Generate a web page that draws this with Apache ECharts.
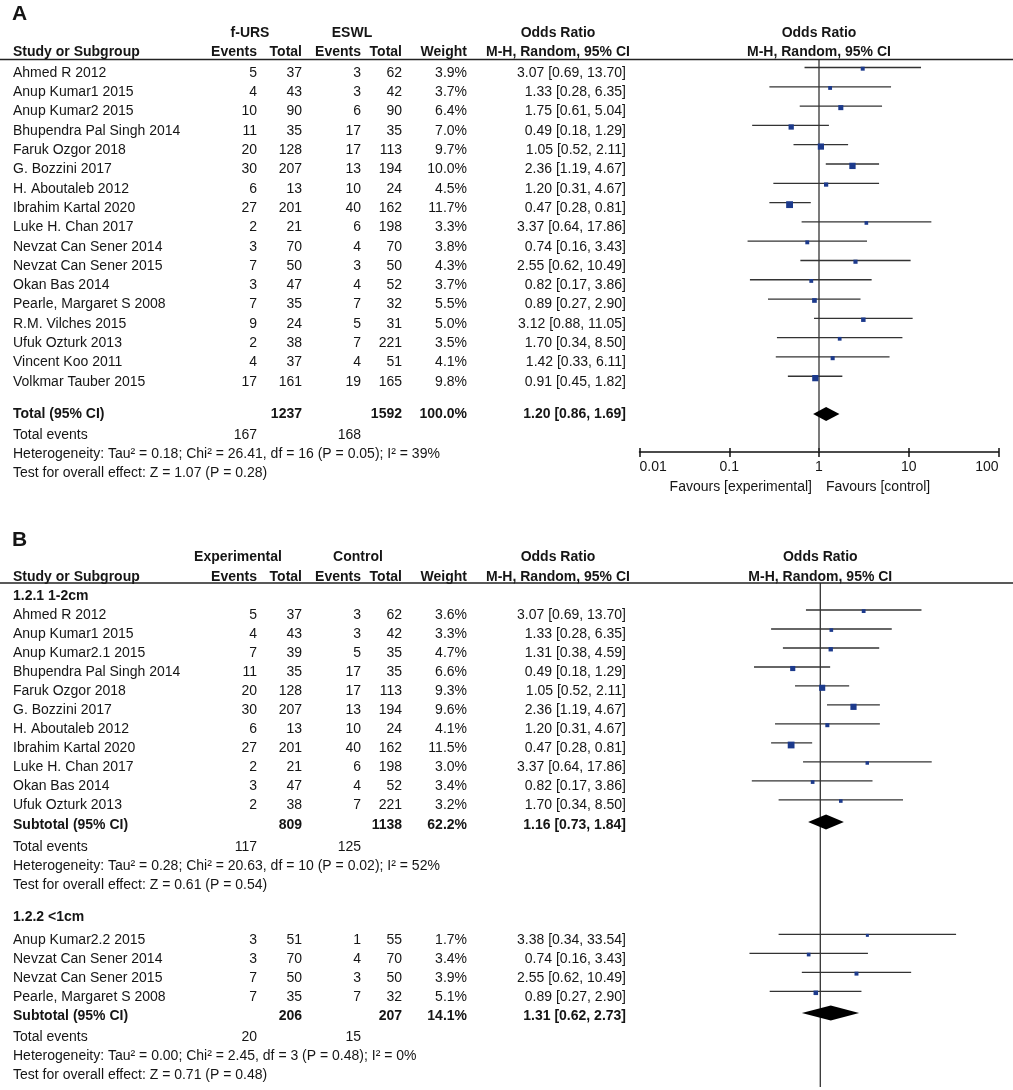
<!DOCTYPE html>
<html><head><meta charset="utf-8">
<script src="https://cdn.jsdelivr.net/npm/echarts@6/dist/echarts.min.js"></script>
<style>html,body{margin:0;padding:0;background:#fff}#main{width:1013px;height:1090px}</style>
</head><body><div id="main"></div>
<script>
// ---------------- DATA: panel A (f-URS vs ESWL) ----------------
const studiesA = ["Ahmed R 2012","Anup Kumar1 2015","Anup Kumar2 2015","Bhupendra Pal Singh 2014","Faruk Ozgor 2018","G. Bozzini 2017","H. Aboutaleb 2012","Ibrahim Kartal 2020","Luke H. Chan 2017","Nevzat Can Sener 2014","Nevzat Can Sener 2015","Okan Bas 2014","Pearle, Margaret S 2008","R.M. Vilches 2015","Ufuk Ozturk 2013","Vincent Koo 2011","Volkmar Tauber 2015"];
const expEventsA = [5,4,10,11,20,30,6,27,2,3,7,3,7,9,2,4,17];
const expTotalA  = [37,43,90,35,128,207,13,201,21,70,50,47,35,24,38,37,161];
const ctlEventsA = [3,3,6,17,17,13,10,40,6,4,3,4,7,5,7,4,19];
const ctlTotalA  = [62,42,90,35,113,194,24,162,198,70,50,52,32,31,221,51,165];
const weightA    = [3.9,3.7,6.4,7.0,9.7,10.0,4.5,11.7,3.3,3.8,4.3,3.7,5.5,5.0,3.5,4.1,9.8];
const orA        = [3.07,1.33,1.75,0.49,1.05,2.36,1.20,0.47,3.37,0.74,2.55,0.82,0.89,3.12,1.70,1.42,0.91];
const loA        = [0.69,0.28,0.61,0.18,0.52,1.19,0.31,0.28,0.64,0.16,0.62,0.17,0.27,0.88,0.34,0.33,0.45];
const hiA        = [13.70,6.35,5.04,1.29,2.11,4.67,4.67,0.81,17.86,3.43,10.49,3.86,2.90,11.05,8.50,6.11,1.82];
const groupsA    = ["f-URS","ESWL"];
const totalA     = {expTotal:1237, ctlTotal:1592, weight:100.0, or:1.20, lo:0.86, hi:1.69, expEvents:167, ctlEvents:168};
const hetA       = "Heterogeneity: Tau\u00B2 = 0.18; Chi\u00B2 = 26.41, df = 16 (P = 0.05); I\u00B2 = 39%";
const testA      = "Test for overall effect: Z = 1.07 (P = 0.28)";
const tickLabelsA = ["0.01","0.1","1","10","100"];
const favoursA   = ["Favours [experimental]","Favours [control]"];

// ---------------- DATA: panel B (subgroups) ----------------
const groupsB    = ["Experimental","Control"];
const sub1Title  = "1.2.1 1-2cm";
const studiesB1  = ["Ahmed R 2012","Anup Kumar1 2015","Anup Kumar2.1 2015","Bhupendra Pal Singh 2014","Faruk Ozgor 2018","G. Bozzini 2017","H. Aboutaleb 2012","Ibrahim Kartal 2020","Luke H. Chan 2017","Okan Bas 2014","Ufuk Ozturk 2013"];
const expEventsB1 = [5,4,7,11,20,30,6,27,2,3,2];
const expTotalB1  = [37,43,39,35,128,207,13,201,21,47,38];
const ctlEventsB1 = [3,3,5,17,17,13,10,40,6,4,7];
const ctlTotalB1  = [62,42,35,35,113,194,24,162,198,52,221];
const weightB1    = [3.6,3.3,4.7,6.6,9.3,9.6,4.1,11.5,3.0,3.4,3.2];
const orB1        = [3.07,1.33,1.31,0.49,1.05,2.36,1.20,0.47,3.37,0.82,1.70];
const loB1        = [0.69,0.28,0.38,0.18,0.52,1.19,0.31,0.28,0.64,0.17,0.34];
const hiB1        = [13.70,6.35,4.59,1.29,2.11,4.67,4.67,0.81,17.86,3.86,8.50];
const subtotalB1  = {expTotal:809, ctlTotal:1138, weight:62.2, or:1.16, lo:0.73, hi:1.84, expEvents:117, ctlEvents:125};
const hetB1       = "Heterogeneity: Tau\u00B2 = 0.28; Chi\u00B2 = 20.63, df = 10 (P = 0.02); I\u00B2 = 52%";
const testB1      = "Test for overall effect: Z = 0.61 (P = 0.54)";

const sub2Title  = "1.2.2 <1cm";
const studiesB2  = ["Anup Kumar2.2 2015","Nevzat Can Sener 2014","Nevzat Can Sener 2015","Pearle, Margaret S 2008"];
const expEventsB2 = [3,3,7,7];
const expTotalB2  = [51,70,50,35];
const ctlEventsB2 = [1,4,3,7];
const ctlTotalB2  = [55,70,50,32];
const weightB2    = [1.7,3.4,3.9,5.1];
const orB2        = [3.38,0.74,2.55,0.89];
const loB2        = [0.34,0.16,0.62,0.27];
const hiB2        = [33.54,3.43,10.49,2.90];
const subtotalB2  = {expTotal:206, ctlTotal:207, weight:14.1, or:1.31, lo:0.62, hi:2.73, expEvents:20, ctlEvents:15};
const hetB2       = "Heterogeneity: Tau\u00B2 = 0.00; Chi\u00B2 = 2.45, df = 3 (P = 0.48); I\u00B2 = 0%";
const testB2      = "Test for overall effect: Z = 0.71 (P = 0.48)";

// ---------------- LAYOUT ----------------
const FONT = 'Arial, "Liberation Sans", Helvetica, sans-serif';
const TXT = '#151515';
const COL = {name:13, e1:257, t1:302, e2:361, t2:402, w:467, ci:626, ciHead:558};
const LINE_DY = -5.5;
const SQ_COLOR = '#1c3a8c';

const fmtCI = (o,l,h) => o.toFixed(2) + ' [' + l.toFixed(2) + ', ' + h.toFixed(2) + ']';
const pct = w => w.toFixed(1) + '%';
const C = (x, t, a, b, s) => ({x, t: String(t), a: a || 'right', b: !!b, s: s || 14});
const CF = (dx, t, a, b) => ({xf: 1, dx, t, a: a || 'center', b: !!b, s: 14});

function headerRows(label, labelSlot, h1Slot, h2Slot, lineSlot, groups, g1x, g2x) {
  return [
    {slot: labelSlot, cells: [C(12, label, 'left', true, 21)]},
    {slot: h1Slot, cells: [C(g1x, groups[0], 'center', true), C(g2x, groups[1], 'center', true), C(COL.ciHead, 'Odds Ratio', 'center', true), CF(0, 'Odds Ratio', 'center', true)]},
    {slot: h2Slot, cells: [C(COL.name, 'Study or Subgroup', 'left', true), C(COL.e1, 'Events', 'right', true), C(COL.t1, 'Total', 'right', true), C(COL.e2, 'Events', 'right', true), C(COL.t2, 'Total', 'right', true), C(COL.w, 'Weight', 'right', true), C(COL.ciHead, 'M-H, Random, 95% CI', 'center', true), CF(0, 'M-H, Random, 95% CI', 'center', true)]},
    {slot: lineSlot, line: true, cells: []}
  ];
}
function studyRows(names, ee, et, ce, ct, w, o, l, h, slot0) {
  return names.map((n, i) => ({slot: slot0 + i, cells: [C(COL.name, n, 'left'), C(COL.e1, ee[i]), C(COL.t1, et[i]), C(COL.e2, ce[i]), C(COL.t2, ct[i]), C(COL.w, pct(w[i])), C(COL.ci, fmtCI(o[i], l[i], h[i]))]}));
}
function summaryRows(label, t, sTot, sEv, sHet, sTest, het, test) {
  return [
    {slot: sTot, cells: [C(COL.name, label, 'left', true), C(COL.t1, t.expTotal, 'right', true), C(COL.t2, t.ctlTotal, 'right', true), C(COL.w, pct(t.weight), 'right', true), C(COL.ci, fmtCI(t.or, t.lo, t.hi), 'right', true)]},
    {slot: sEv, cells: [C(COL.name, 'Total events', 'left'), C(COL.e1, t.expEvents), C(COL.e2, t.ctlEvents)]},
    {slot: sHet, cells: [C(COL.name, het, 'left')]},
    {slot: sTest, cells: [C(COL.name, test, 'left')]}
  ];
}

// Panel A rows (slot units = one study row)
const yA = {min: -0.70, max: 19.64};
const rowsA = [].concat(
  headerRows('A', -3.05, -2.07, -1.06, yA.min, groupsA, 250, 352),
  studyRows(studiesA, expEventsA, expTotalA, ctlEventsA, ctlTotalA, weightA, orA, loA, hiA, 0),
  summaryRows('Total (95% CI)', totalA, 17.67, 18.76, 19.74, 20.73, hetA, testA),
  [{slot: 21.45, cells: [CF(-7, favoursA[0], 'right'), CF(7, favoursA[1], 'left')]}]
);
const totalSlotA = 17.67;

// Panel B rows
const yB = {min: -1.71, max: 24.82};
const sub2Start = 17.08;
const rowsB = [].concat(
  headerRows('B', -3.97, -3.08, -2.03, yB.min, groupsB, 238, 358),
  [{slot: -1.0, cells: [C(COL.name, sub1Title, 'left', true)]}],
  studyRows(studiesB1, expEventsB1, expTotalB1, ctlEventsB1, ctlTotalB1, weightB1, orB1, loB1, hiB1, 0),
  summaryRows('Subtotal (95% CI)', subtotalB1, 11.03, 12.18, 13.18, 14.18, hetB1, testB1),
  [{slot: 15.87, cells: [C(COL.name, sub2Title, 'left', true)]}],
  studyRows(studiesB2, expEventsB2, expTotalB2, ctlEventsB2, ctlTotalB2, weightB2, orB2, loB2, hiB2, sub2Start),
  summaryRows('Subtotal (95% CI)', subtotalB2, 21.08, 22.18, 23.18, 24.18, hetB2, testB2)
);

// ---------------- SERIES BUILDERS ----------------
function textSeries(rows, xi, yi) {
  return {
    type: 'custom', xAxisIndex: xi, yAxisIndex: yi, silent: true, clip: false, z: 3,
    data: rows.map((r, i) => [1, r.slot, i]),
    encode: {x: 0, y: 1},
    renderItem: (params, api) => {
      const r = rows[api.value(2)];
      const slot = api.value(1);
      const y = api.coord([1, slot])[1];
      const ch = [];
      if (r.line) ch.push({type: 'line', shape: {x1: 0, y1: y, x2: 1013, y2: y}, style: {stroke: '#222', lineWidth: 1.6}});
      r.cells.forEach(c => {
        const x = c.xf != null ? api.coord([c.xf, slot])[0] + c.dx : c.x;
        ch.push({type: 'text', style: {x, y, text: c.t, fill: TXT,
          font: (c.b ? 'bold ' : '') + c.s + 'px ' + FONT,
          align: c.a, textAlign: c.a, verticalAlign: 'middle', textVerticalAlign: 'middle'}});
      });
      return {type: 'group', children: ch};
    }
  };
}
function refLineSeries(xi, yi, yr) {
  return {
    type: 'custom', xAxisIndex: xi, yAxisIndex: yi, silent: true, clip: false, z: 1,
    data: [[1, yr.min, yr.max]], encode: {x: 0, y: [1, 2]},
    renderItem: (params, api) => {
      const a = api.coord([api.value(0), api.value(1)]);
      const b = api.coord([api.value(0), api.value(2)]);
      return {type: 'line', shape: {x1: a[0], y1: a[1], x2: b[0], y2: b[1]}, style: {stroke: '#333', lineWidth: 1.3}};
    }
  };
}
function forestSeries(xi, yi, lo, hi, or, w, slot0) {
  return {
    type: 'custom', xAxisIndex: xi, yAxisIndex: yi, silent: true, clip: false, z: 2,
    data: or.map((o, i) => [lo[i], hi[i], o, slot0 + i, w[i]]),
    encode: {x: [0, 1, 2], y: 3},
    renderItem: (params, api) => {
      const s = api.value(3);
      const p1 = api.coord([api.value(0), s]);
      const p2 = api.coord([api.value(1), s]);
      const pc = api.coord([api.value(2), s]);
      const yl = p1[1] + LINE_DY;
      const sz = Math.max(3, 2 * Math.sqrt(api.value(4)));
      return {type: 'group', children: [
        {type: 'line', shape: {x1: p1[0], y1: yl, x2: p2[0], y2: yl}, style: {stroke: '#333', lineWidth: 1.3}},
        {type: 'rect', shape: {x: pc[0] - sz / 2, y: yl + 0.3 * sz - sz / 2, width: sz, height: sz}, style: {fill: SQ_COLOR}}
      ]};
    }
  };
}
function diamondSeries(xi, yi, items, h, dy) {
  return {
    type: 'custom', xAxisIndex: xi, yAxisIndex: yi, silent: true, clip: false, z: 2,
    data: items.map(t => [t.lo, t.or, t.hi, t.slot]),
    encode: {x: [0, 1, 2], y: 3},
    renderItem: (params, api) => {
      const s = api.value(3);
      const a = api.coord([api.value(0), s]);
      const m = api.coord([api.value(1), s]);
      const b = api.coord([api.value(2), s]);
      const y = a[1] + dy;
      return {type: 'polygon', shape: {points: [[a[0], y], [m[0], y - h / 2], [b[0], y], [m[0], y + h / 2]]}, style: {fill: '#000'}};
    }
  };
}

// ---------------- CHART ----------------
const chart = echarts.init(document.getElementById('main'), null, {renderer: 'canvas'});
const logAxisBase = {type: 'log', logBase: 10, min: 0.01, max: 100, splitLine: {show: false}, minorTick: {show: false}};
const gridA = {left: 639.5, right: 14.5, top: 59.5, bottom: 1090 - 452};
chart.setOption({
  animation: false,
  backgroundColor: '#fff',
  grid: [
    gridA,
    {left: 642.3, right: 14.7, top: 583, bottom: 3}
  ],
  xAxis: [
    Object.assign({}, logAxisBase, {gridIndex: 0, position: 'bottom',
      axisLine: {show: true, onZero: false, lineStyle: {color: '#111', width: 1.5}},
      axisTick: {show: true, length: 5, lineStyle: {color: '#111', width: 1.5}},
      axisLabel: {show: true, color: TXT, fontSize: 14, fontFamily: FONT, margin: 8,
        alignMinLabel: 'left', alignMaxLabel: 'right',
        formatter: (v, i) => tickLabelsA[i] != null ? tickLabelsA[i] : String(v)}}),
    // second copy of the axis: a top axis shifted down onto the bottom line, giving the upward half of each tick
    Object.assign({}, logAxisBase, {gridIndex: 0, position: 'top',
      offset: -(1090 - gridA.top - gridA.bottom),
      axisLine: {show: false, onZero: false}, axisLabel: {show: false},
      axisTick: {show: true, inside: false, length: 4, lineStyle: {color: '#111', width: 1.5}}}),
    Object.assign({}, logAxisBase, {gridIndex: 1, show: false})
  ],
  yAxis: [
    {type: 'value', gridIndex: 0, inverse: true, min: yA.min, max: yA.max, show: false},
    {type: 'value', gridIndex: 1, inverse: true, min: yB.min, max: yB.max, show: false}
  ],
  series: [
    refLineSeries(0, 0, yA),
    forestSeries(0, 0, loA, hiA, orA, weightA, 0),
    diamondSeries(0, 0, [Object.assign({slot: totalSlotA}, totalA)], 14, 0),
    textSeries(rowsA, 0, 0),
    refLineSeries(2, 1, yB),
    forestSeries(2, 1, loB1, hiB1, orB1, weightB1, 0),
    forestSeries(2, 1, loB2, hiB2, orB2, weightB2, sub2Start),
    diamondSeries(2, 1, [Object.assign({slot: 11.03}, subtotalB1), Object.assign({slot: 21.08}, subtotalB2)], 15, -3),
    textSeries(rowsB, 2, 1)
  ]
});
</script></body></html>
